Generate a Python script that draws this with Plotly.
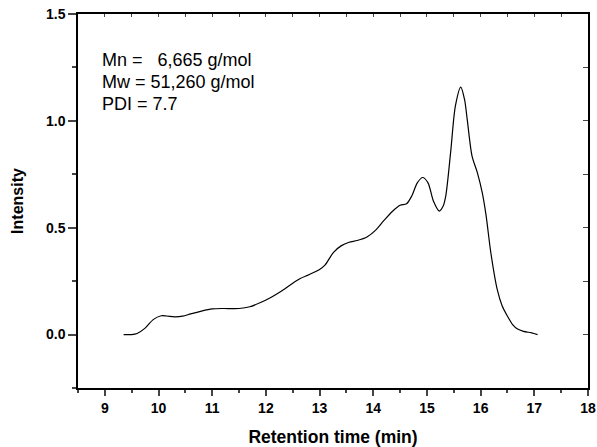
import plotly.graph_objects as go

# Retention time (min) and intensity
time_min = [9.35, 9.5, 9.6, 9.75, 9.9, 10.05, 10.15, 10.3, 10.45, 10.6, 10.8, 11.0, 11.2, 11.5, 11.7,
            11.9, 12.1, 12.3, 12.5, 12.64, 12.8, 13.0, 13.1, 13.26, 13.4, 13.55, 13.7, 13.89, 14.05, 14.2,
            14.35, 14.5, 14.62, 14.72, 14.82, 14.92, 15.02, 15.12, 15.23, 15.3, 15.35, 15.44, 15.53,
            15.63, 15.7, 15.75, 15.84, 15.94, 16.03, 16.1, 16.19, 16.31, 16.4, 16.5, 16.6, 16.68,
            16.8, 16.95, 17.06]
intensity = [0.0, 0.0, 0.005, 0.03, 0.07, 0.088, 0.087, 0.083, 0.086, 0.097, 0.11, 0.12, 0.122, 0.122, 0.13,
             0.15, 0.175, 0.205, 0.24, 0.262, 0.28, 0.305, 0.325, 0.385, 0.415, 0.432, 0.44, 0.458, 0.49, 0.534,
             0.575, 0.605, 0.612, 0.65, 0.71, 0.735, 0.71, 0.625, 0.578, 0.6, 0.648, 0.85, 1.07,
             1.158, 1.1, 1.007, 0.835, 0.757, 0.664, 0.56, 0.383, 0.21, 0.135, 0.086, 0.045, 0.027,
             0.015, 0.008, 0.0]

x_range = [8.5, 18]
y_range = [-0.25, 1.5]
x_ticks = [9, 10, 11, 12, 13, 14, 15, 16, 17, 18]
y_ticks = [0.0, 0.5, 1.0, 1.5]
y_tick_labels = ["0.0", "0.5", "1.0", "1.5"]

annotation_lines = ["Mn =   6,665 g/mol", "Mw = 51,260 g/mol", "PDI = 7.7"]
annotation_y = [1.285, 1.18, 1.077]

fig = go.Figure()
fig.add_trace(go.Scatter(x=time_min, y=intensity, mode="lines",
                         line=dict(color="black", width=1.2, shape="spline", smoothing=0.8),
                         showlegend=False, hoverinfo="skip"))
# invisible trace for the mirrored axes
fig.add_trace(go.Scatter(x=[x_range[0]], y=[y_range[0]], xaxis="x2", yaxis="y2",
                         mode="markers", marker=dict(opacity=0), showlegend=False, hoverinfo="skip"))

font_family = "Liberation Sans, Arial, sans-serif"
fig.update_layout(
    width=597, height=447,
    margin=dict(l=78, r=9, t=14, b=59, autoexpand=False),
    paper_bgcolor="white", plot_bgcolor="white",
    font=dict(family=font_family, color="black"),
    xaxis=dict(range=x_range, tickvals=x_ticks, ticks="outside", ticklen=6, tickwidth=1.5,
               showline=True, linecolor="black", linewidth=1.5, showgrid=False, zeroline=False,
               tickfont=dict(size=14, family=font_family, weight="bold"),
               minor=dict(ticks="outside", ticklen=3, dtick=0.5, tickwidth=1.5, tick0=8.5),
               title=dict(text="<b>Retention time (min)</b>", font=dict(size=17.5), standoff=16)),
    yaxis=dict(range=y_range, tickvals=y_ticks, ticktext=y_tick_labels, ticks="outside", ticklen=8,
               tickwidth=1.5, showline=True, linecolor="black", linewidth=1.5, showgrid=False,
               zeroline=False, tickfont=dict(size=14, family=font_family, weight="bold"),
               minor=dict(ticks="outside", ticklen=4, dtick=0.25, tickwidth=1.5, tick0=-0.25),
               title=dict(text="<b>Intensity</b>", font=dict(size=16), standoff=18)),
    xaxis2=dict(range=x_range, overlaying="x", side="top", showline=True, linecolor="black",
                linewidth=1.5, ticks="inside", ticklen=3, tickwidth=1, dtick=0.5, tick0=8.5,
                showticklabels=False, showgrid=False, zeroline=False),
    yaxis2=dict(range=y_range, overlaying="y", side="right", showline=True, linecolor="black",
                linewidth=1.5, ticks="inside", ticklen=5, tickwidth=1, dtick=0.25, tick0=-0.25,
                showticklabels=False, showgrid=False, zeroline=False),
)

for line_text, yv in zip(annotation_lines, annotation_y):
    fig.add_annotation(text=line_text, xref="x", yref="y", x=8.91, y=yv,
                       xanchor="left", yanchor="middle", showarrow=False, align="left",
                       font=dict(size=18, family=font_family, color="black"))

fig.write_html("out.html", config={"displayModeBar": False},
               post_script="document.body.style.margin='0';document.body.style.overflow='hidden';")
